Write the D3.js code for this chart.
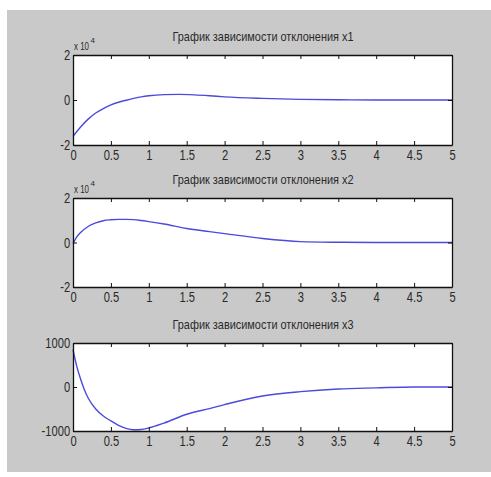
<!DOCTYPE html>
<html lang="ru">
<head>
<meta charset="UTF-8">
<title>Графики зависимости отклонения</title>
<script src="https://d3js.org/d3.v7.min.js"></script>
<style>
  body { margin: 0; background: #fff; overflow: hidden; }
  svg { display: block; }
  text { font-family: "Liberation Sans", Arial, sans-serif; fill: #2a2a2a; }
</style>
</head>
<body>
<div id="chart"></div>
<script>
// time points (s)
const tX1 = [0, 0.1, 0.2, 0.3, 0.4, 0.5, 0.6, 0.7, 0.8, 0.9, 1.0, 1.2, 1.4, 1.6, 1.8, 2.0, 2.5, 3.0, 3.5, 4.0, 4.5, 5.0];
// x1, units of 1e4
const x1 = [-1.62, -1.2, -0.85, -0.58, -0.38, -0.22, -0.1, -0.01, 0.07, 0.14, 0.19, 0.24, 0.25, 0.23, 0.19, 0.14, 0.07, 0.03, 0.01, 0.0, 0.0, 0.0];

const tX2 = [0, 0.05, 0.1, 0.2, 0.3, 0.4, 0.5, 0.6, 0.7, 0.8, 0.9, 1.0, 1.2, 1.5, 1.8, 2.0, 2.5, 3.0, 3.5, 4.0, 4.5, 5.0];
// x2, units of 1e4
const x2 = [-0.05, 0.25, 0.45, 0.72, 0.88, 0.98, 1.02, 1.04, 1.04, 1.03, 0.99, 0.94, 0.83, 0.63, 0.49, 0.4, 0.18, 0.04, 0.01, 0.0, 0.0, 0.0];

const tX3 = [0, 0.05, 0.1, 0.15, 0.2, 0.3, 0.4, 0.5, 0.6, 0.7, 0.8, 0.9, 1.0, 1.2, 1.5, 1.8, 2.0, 2.5, 3.0, 3.5, 4.0, 4.5, 5.0];
const x3 = [850, 470, 180, -60, -250, -500, -660, -770, -870, -940, -970, -965, -930, -820, -620, -490, -400, -205, -105, -45, -20, 0, 0];

const xTicks = [0, 0.5, 1, 1.5, 2, 2.5, 3, 3.5, 4, 4.5, 5];

const panels = [
  { title: "График зависимости отклонения x1", t: tX1, v: x1, domain: [-2, 2], yTicks: [-2, 0, 2], exp: true, top: 55, h: 90 },
  { title: "График зависимости отклонения x2", t: tX2, v: x2, domain: [-2, 2], yTicks: [-2, 0, 2], exp: true, top: 198, h: 89 },
  { title: "График зависимости отклонения x3", t: tX3, v: x3, domain: [-1000, 1000], yTicks: [-1000, 0, 1000], exp: false, top: 343, h: 88 }
];

const W = 491, H = 477;
const left = 73, right = 452;
const squeeze = 0.72; // condensed look of the original font

const svg = d3.select("#chart").append("svg").attr("width", W).attr("height", H);

// figure background
svg.append("rect").attr("x", 7).attr("y", 10).attr("width", W - 7).attr("height", 462).attr("fill", "#c9c9c9");

const x = d3.scaleLinear().domain([0, 5]).range([left, right]);

panels.forEach(p => {
  const y = d3.scaleLinear().domain(p.domain).range([p.top + p.h, p.top]);
  const g = svg.append("g");

  g.append("rect").attr("x", left).attr("y", p.top).attr("width", right - left).attr("height", p.h).attr("fill", "#fff");

  const line = d3.line().x((d, i) => x(p.t[i])).y(d => y(d)).curve(d3.curveMonotoneX);
  g.append("path").datum(p.v).attr("d", line)
    .attr("fill", "none").attr("stroke", "#4a4adc").attr("stroke-width", 1.4);

  const fmt = d => String(d);
  const axB = g.append("g").attr("transform", `translate(0,${p.top + p.h})`)
    .call(d3.axisBottom(x).tickValues(xTicks).tickSizeInner(-4).tickSizeOuter(0).tickPadding(4).tickFormat(fmt));
  const axT = g.append("g").attr("transform", `translate(0,${p.top})`)
    .call(d3.axisTop(x).tickValues(xTicks).tickSizeInner(-4).tickSizeOuter(0).tickFormat(""));
  const axL = g.append("g").attr("transform", `translate(${left},0)`)
    .call(d3.axisLeft(y).tickValues(p.yTicks).tickSizeInner(-4).tickSizeOuter(0).tickPadding(0).tickFormat(fmt));
  const axR = g.append("g").attr("transform", `translate(${right},0)`)
    .call(d3.axisRight(y).tickValues(p.yTicks).tickSizeInner(-4).tickSizeOuter(0).tickFormat(""));

  [axB, axT, axL, axR].forEach(a => {
    a.select(".domain").attr("stroke", "#111").attr("stroke-width", 1.3);
    a.selectAll(".tick line").attr("stroke", "#111");
    a.selectAll("text").attr("font-size", 15.5).attr("fill", "#2e2e2e")
      .attr("transform", `scale(${squeeze},1)`);
  });
  axL.selectAll("text").attr("x", -4);

  g.append("text").attr("x", 263).attr("y", p.top - 14).attr("text-anchor", "middle")
    .attr("font-size", 13.5).attr("textLength", 181).attr("lengthAdjust", "spacingAndGlyphs")
    .text(p.title);

  if (p.exp) {
    g.append("text").attr("x", left + 1).attr("y", p.top - 5).attr("font-size", 11)
      .attr("transform", `translate(${(left + 1) * (1 - squeeze)},0) scale(${squeeze},1)`)
      .text("x 10");
    g.append("text").attr("x", left + 17.5).attr("y", p.top - 12).attr("font-size", 8).text("4");
  }
});
</script>
</body>
</html>
